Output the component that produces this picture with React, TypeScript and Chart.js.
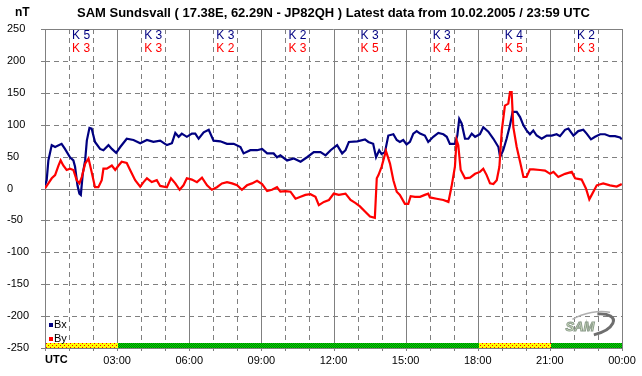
import React, { useEffect, useRef } from 'react';
import { Chart, registerables } from 'chart.js';

Chart.register(...registerables);

const TITLE = 'SAM Sundsvall ( 17.38E, 62.29N - JP82QH ) Latest data from 10.02.2005 / 23:59 UTC';
const UNIT = 'nT';

const bxHours = [0.00,0.07,0.14,0.28,0.42,0.69,0.83,1.04,1.18,1.25,
  1.35,1.43,1.49,1.57,1.67,1.74,1.85,1.94,2.08,2.29,
  2.43,2.64,2.78,2.96,3.13,3.40,3.68,3.96,4.24,4.51,
  4.79,5.07,5.28,5.42,5.56,5.69,5.90,6.11,6.25,6.39,
  6.60,6.81,7.01,7.29,7.57,7.85,8.13,8.26,8.54,8.82,
  9.03,9.24,9.51,9.65,9.79,10.07,10.35,10.63,10.90,11.18,
  11.46,11.67,11.88,12.15,12.36,12.50,12.64,12.99,13.31,13.45,
  13.65,13.77,13.90,14.00,14.14,14.28,14.49,14.63,14.76,14.90,
  15.04,15.18,15.32,15.46,15.60,15.80,15.94,16.15,16.36,16.57,
  16.71,16.84,17.05,17.15,17.23,17.33,17.47,17.61,17.75,17.89,
  18.09,18.23,18.44,18.65,18.86,18.93,19.06,19.20,19.34,19.45,
  19.62,19.76,19.90,20.03,20.17,20.31,20.45,20.66,20.87,21.08,
  21.28,21.42,21.63,21.77,21.98,22.18,22.39,22.53,22.71,22.88,
  23.09,23.29,23.50,23.71,23.92,23.99];
const bxValues = [5,13,44,68,65,70,62,49,44,34,
  5,-8,-10,23,44,75,95,94,73,62,
  60,68,62,56,65,78,76,71,76,73,
  75,68,71,87,81,86,81,86,86,78,
  88,92,75,74,70,70,65,55,60,60,
  62,55,55,49,52,44,47,42,49,57,
  57,52,60,68,55,60,73,74,77,73,
  70,49,60,54,57,83,85,76,73,76,
  69,73,86,90,86,83,73,81,87,85,
  81,70,70,83,109,102,78,78,86,81,
  85,96,89,78,65,49,60,78,99,120,
  120,112,99,91,85,91,83,78,83,83,
  85,82,92,94,83,90,92,86,77,81,
  85,85,82,82,80,77];

const byHours = [0.00,0.14,0.28,0.42,0.56,0.65,0.76,0.90,1.04,1.18,
  1.32,1.43,1.53,1.67,1.81,1.94,2.08,2.22,2.36,2.43,
  2.57,2.78,2.92,3.06,3.19,3.40,3.54,3.75,3.96,4.10,
  4.24,4.44,4.65,4.79,5.07,5.24,5.42,5.60,5.76,5.90,
  6.11,6.32,6.53,6.74,6.94,7.15,7.36,7.57,7.78,7.99,
  8.19,8.40,8.61,8.82,9.03,9.24,9.44,9.65,9.79,10.00,
  10.21,10.42,10.63,10.83,11.04,11.25,11.39,11.60,11.81,12.01,
  12.22,12.50,12.71,12.92,13.10,13.31,13.52,13.72,13.80,13.87,
  14.00,14.18,14.35,14.49,14.63,14.76,14.97,15.11,15.21,15.39,
  15.60,15.80,15.94,16.01,16.29,16.57,16.78,16.91,17.05,17.12,
  17.19,17.29,17.47,17.68,17.89,18.09,18.23,18.37,18.51,18.65,
  18.79,18.90,19.00,19.13,19.27,19.34,19.41,19.48,19.62,19.76,
  19.90,20.03,20.17,20.31,20.59,20.80,21.01,21.15,21.35,21.63,
  21.91,22.05,22.32,22.50,22.64,22.74,22.95,23.22,23.50,23.78,
  23.99];
const byValues = [0,8,16,21,36,44,36,29,31,29,
  13,8,18,39,47,26,2,2,13,31,
  31,36,29,36,42,40,29,13,3,10,
  16,10,13,4,2,16,8,-2,5,16,
  14,10,17,5,-2,2,8,10,8,5,
  -2,5,8,12,7,-4,-2,2,-5,-4,
  -5,-16,-13,-10,-9,-13,-26,-21,-18,-8,
  -10,-8,-18,-23,-28,-36,-44,-46,16,21,
  34,59,39,13,-5,-10,-24,-24,-12,-13,
  -13,-10,-8,-14,-16,-18,-21,3,34,76,
  68,29,16,17,23,26,31,21,8,7,
  13,34,91,130,133,151,151,96,65,42,
  18,18,30,30,29,28,23,26,18,23,
  26,16,14,0,-17,-10,5,8,5,3,
  7];

const yTickValues = [250, 200, 150, 100, 50, 0, -50, -100, -150, -200, -250];
const xTickLabels = ['UTC', '03:00', '06:00', '09:00', '12:00', '15:00', '18:00', '21:00', '00:00'];
const kIndexBx = [5, 3, 3, 2, 3, 3, 4, 2];
const kIndexBy = [3, 3, 2, 3, 5, 4, 5, 3];
const statusBand = ['yellow', 'green', 'green', 'green', 'green', 'green', 'yellow', 'green'];

const NAVY = '#000080';
const RED = '#ff0000';
const GRID = '#808080';
const FONT = '"Liberation Sans", Arial, sans-serif';

function makePattern(ctx: CanvasRenderingContext2D, kind: string) {
  const c = document.createElement('canvas');
  c.width = 4; c.height = 4;
  const p = c.getContext('2d')!;
  if (kind === 'yellow') {
    p.fillStyle = '#ffff00'; p.fillRect(0, 0, 4, 4);
    p.fillStyle = '#ff0000';
    p.fillRect(0, 1, 1, 1); p.fillRect(2, 3, 1, 1);
  } else {
    p.fillStyle = '#00e000'; p.fillRect(0, 0, 4, 4);
    p.fillStyle = '#007800';
    for (let i = 0; i < 4; i++) for (let j = 0; j < 4; j++) if ((i + j) % 2 === 0) p.fillRect(i, j, 1, 1);
  }
  return ctx.createPattern(c, 'repeat')!;
}

const decorPlugin = {
  id: 'samDecor',
  beforeDatasetsDraw(chart: any) {
    const { ctx, chartArea: a, scales } = chart;
    const xs = scales.x, ys = scales.y;
    ctx.save();
    ctx.lineWidth = 1;
    ctx.strokeStyle = GRID;
    for (let h = 0; h <= 24; h++) {
      const x = Math.round(xs.getPixelForValue(h)) + 0.5;
      ctx.setLineDash(h % 3 === 0 ? [] : [5, 4]);
      ctx.beginPath(); ctx.moveTo(x, a.top); ctx.lineTo(x, a.bottom); ctx.stroke();
      ctx.setLineDash([]);
      ctx.beginPath(); ctx.moveTo(x, a.bottom); ctx.lineTo(x, a.bottom + 3); ctx.stroke();
    }
    for (const v of yTickValues) {
      const y = Math.round(ys.getPixelForValue(v)) + 0.5;
      ctx.setLineDash(v === 0 || Math.abs(v) === 250 ? [] : [5, 4]);
      ctx.beginPath(); ctx.moveTo(a.left, y); ctx.lineTo(a.right, y); ctx.stroke();
      ctx.setLineDash([]);
      ctx.beginPath(); ctx.moveTo(a.left - 4, y); ctx.lineTo(a.left, y); ctx.stroke();
    }
    // status band
    const bottom = Math.round(a.bottom);
    for (let i = 0; i < statusBand.length; i++) {
      const x0 = Math.round(xs.getPixelForValue(i * 3)) + 1;
      const x1 = Math.round(xs.getPixelForValue(i * 3 + 3)) + (i === statusBand.length - 1 ? 0 : 1);
      ctx.fillStyle = makePattern(ctx, statusBand[i]);
      ctx.fillRect(x0, bottom - 5, x1 - x0, 5);
    }
    ctx.setLineDash([]);
    ctx.beginPath();
    ctx.moveTo(Math.round(a.left) + 0.5, a.top);
    ctx.lineTo(Math.round(a.left) + 0.5, bottom + 0.5);
    ctx.lineTo(Math.round(a.right) + 0.5, bottom + 0.5);
    ctx.lineTo(Math.round(a.right) + 0.5, a.top);
    ctx.stroke();
    ctx.restore();
  },
  afterDatasetsDraw(chart: any) {
    const { ctx, chartArea: a, scales } = chart;
    const xs = scales.x;
    ctx.save();
    // K indices
    ctx.font = `12px ${FONT}`;
    ctx.textAlign = 'center';
    ctx.textBaseline = 'middle';
    for (let i = 0; i < kIndexBx.length; i++) {
      const x = xs.getPixelForValue(i * 3 + 1.5);
      ctx.fillStyle = NAVY;
      ctx.fillText(`K ${kIndexBx[i]}`, x, a.top + 6.5);
      ctx.fillStyle = RED;
      ctx.fillText(`K ${kIndexBy[i]}`, x, a.top + 20);
    }
    // legend
    ctx.font = `11px ${FONT}`;
    ctx.textAlign = 'left';
    ctx.fillStyle = NAVY; ctx.fillRect(a.left + 4, 323, 4, 4);
    ctx.fillStyle = '#000'; ctx.fillText('Bx', a.left + 9, 324.5);
    ctx.fillStyle = RED; ctx.fillRect(a.left + 4, 337, 4, 4);
    ctx.fillStyle = '#000'; ctx.fillText('By', a.left + 9, 338.5);
    // logo
    ctx.save();
    ctx.strokeStyle = '#6e6e6e';
    ctx.lineWidth = 3;
    ctx.beginPath();
    ctx.ellipse(592, 325, 22, 10, -0.25, -1.2, 1.6);
    ctx.stroke();
    ctx.lineWidth = 1.5;
    ctx.strokeStyle = '#b0b0b0';
    ctx.beginPath();
    ctx.ellipse(590, 324, 27, 11, -0.25, -2.2, -0.6);
    ctx.stroke();
    ctx.font = `italic bold 13px ${FONT}`;
    ctx.textAlign = 'center';
    ctx.fillStyle = '#d8e8c8';
    ctx.strokeStyle = '#8c9c8c';
    ctx.lineWidth = 1;
    ctx.fillText('SAM', 580, 327);
    ctx.strokeText('SAM', 580, 327);
    ctx.restore();
    // title and unit
    ctx.fillStyle = '#000';
    ctx.font = `bold 13px ${FONT}`;
    ctx.textAlign = 'center';
    ctx.fillText(TITLE, (a.left + a.right) / 2, 13);
    ctx.font = `bold 12px ${FONT}`;
    ctx.textAlign = 'left';
    ctx.fillText(UNIT, 15, 13);
    // UTC label
    ctx.font = `bold 11px ${FONT}`;
    ctx.fillText(xTickLabels[0], a.left, 360);
    ctx.restore();
  },
};

export default function App() {
  const ref = useRef<HTMLCanvasElement>(null);
  useEffect(() => {
    const chart = new Chart(ref.current!, {
      type: 'line',
      data: {
        datasets: [
          {
            label: 'By',
            data: byHours.map((h, i) => ({ x: h, y: byValues[i] })),
            borderColor: RED,
            borderWidth: 2.2,
            pointRadius: 0,
            tension: 0,
            fill: false,
          },
          {
            label: 'Bx',
            data: bxHours.map((h, i) => ({ x: h, y: bxValues[i] })),
            borderColor: NAVY,
            borderWidth: 2.2,
            pointRadius: 0,
            tension: 0,
            fill: false,
          },
        ],
      },
      options: {
        responsive: false,
        animation: false,
        layout: { padding: { left: 7, right: 20, top: 29, bottom: 0 } },
        plugins: { legend: { display: false }, tooltip: { enabled: false }, title: { display: false } },
        scales: {
          x: {
            type: 'linear',
            min: 0,
            max: 24,
            grid: { display: false, drawTicks: false },
            border: { display: false },
            afterFit: (s: any) => { s.height = 28; },
            ticks: {
              stepSize: 3,
              autoSkip: false,
              maxRotation: 0,
              padding: 6,
              color: '#000',
              font: { family: FONT, size: 11 },
              callback: (v: any) => (v === 0 ? '' : xTickLabels[Math.round(v / 3)]),
            },
          },
          y: {
            min: -250,
            max: 250,
            grid: { display: false, drawTicks: false },
            border: { display: false },
            afterFit: (s: any) => { s.width = 38; },
            ticks: {
              stepSize: 50,
              crossAlign: 'far',
              color: '#000',
              font: { family: FONT, size: 11 },
            },
          },
        },
      },
      plugins: [decorPlugin],
    } as any);
    return () => chart.destroy();
  }, []);
  return (
    <div style={{ position: 'absolute', left: 0, top: 0, width: 642, height: 376, background: '#fff' }}>
      <canvas ref={ref} width={642} height={376} />
    </div>
  );
}
